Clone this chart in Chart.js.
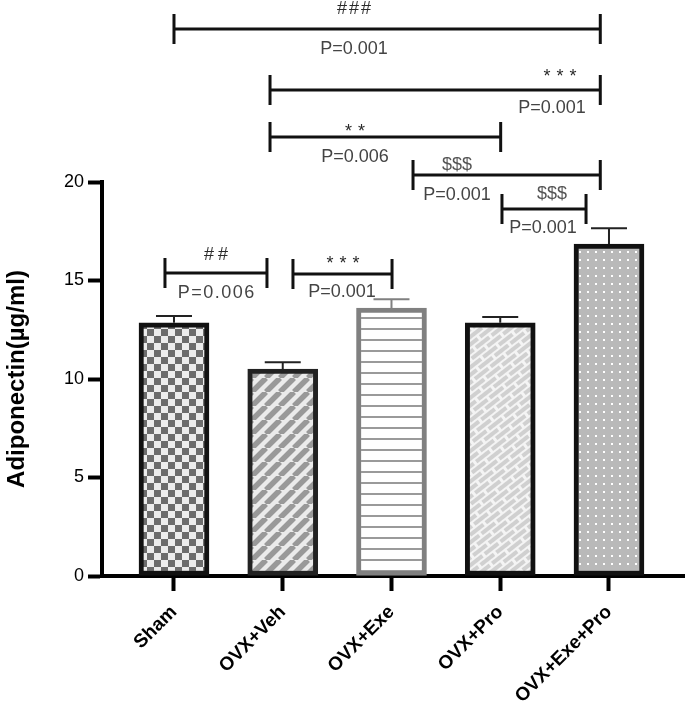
<!DOCTYPE html>
<html><head><meta charset="utf-8">
<script src="https://cdn.jsdelivr.net/npm/chart.js@4.4.1/dist/chart.umd.min.js"></script>
<style>html,body{margin:0;padding:0;background:#fff}#wrap{width:685px;height:704px}</style>
</head><body><div id="wrap"><canvas id="c" width="685" height="704"></canvas></div>
<script>
const categories = ['Sham', 'OVX+Veh', 'OVX+Exe', 'OVX+Pro', 'OVX+Exe+Pro'];
const means = [12.85, 10.5, 13.6, 12.85, 16.85];
const sems = [0.35, 0.35, 0.45, 0.3, 0.8];
const yTicks = [0, 5, 10, 15, 20];

// significance brackets (x in category index units, y in axis units)
const bracketStart = [0, 0.883, 0.883, 2.198, 3.016, -0.083, 1.094];
const bracketEnd   = [3.92, 3.92, 3.004, 3.92, 3.789, 0.855, 2.005];
const bracketLevel = [27.77, 24.67, 22.28, 20.36, 18.63, 15.38, 15.33];
const symbolText = ['###', '***', '**', '$$$', '$$$', '##', '***'];
const symbolX = [1.655, 3.55, 1.664, 2.602, 3.476, 0.386, 1.554];
const symbolY = [28.78, 25.53, 22.74, 20.86, 19.39, 16.29, 16.04];
const pText = ['P=0.001', 'P=0.001', 'P=0.006', 'P=0.001', 'P=0.001', 'P=0.006', 'P=0.001'];
const pX = [1.655, 3.476, 1.664, 2.602, 3.393, 0.386, 1.545];
const pY = [26.73, 23.76, 21.27, 19.34, 17.66, 14.37, 14.42];

const FONT = "'Liberation Sans', Arial, Helvetica, sans-serif";
const canvas = document.getElementById('c');
const ctx0 = canvas.getContext('2d');

function makeTile(w, h, draw) {
  const c = document.createElement('canvas');
  c.width = w; c.height = h;
  draw(c.getContext('2d'), w, h);
  return c;
}
const checker = ctx0.createPattern(makeTile(14, 14, g => {
  g.fillStyle = '#ececec'; g.fillRect(0, 0, 14, 14);
  g.fillStyle = '#6c6c6c'; g.fillRect(0, 0, 7, 7); g.fillRect(7, 7, 7, 7);
}), 'repeat');
const stripes = ctx0.createPattern(makeTile(14, 14, g => {
  g.fillStyle = '#ebebeb'; g.fillRect(0, 0, 14, 14);
  g.strokeStyle = '#999999'; g.lineWidth = 5.5;
  g.beginPath();
  for (let k = -14; k <= 28; k += 14) { g.moveTo(k, 14); g.lineTo(k + 14, 0); }
  g.stroke();
}), 'repeat');
const hlines = ctx0.createPattern(makeTile(10, 11, g => {
  g.fillStyle = '#ffffff'; g.fillRect(0, 0, 10, 11);
  g.fillStyle = '#9a9a9a'; g.fillRect(0, 9, 10, 2);
}), 'repeat');
const bricks = ctx0.createPattern(makeTile(20, 12, g => {
  g.fillStyle = '#f4f4f4'; g.fillRect(0, 0, 20, 12);
  g.fillStyle = '#d0d0d0';
  g.fillRect(1, 1, 17, 4);
  g.fillRect(-9, 7, 17, 4); g.fillRect(11, 7, 17, 4);
}), 'repeat');
try { bricks.setTransform(new DOMMatrix().rotate(-38)); } catch (e) {}
const dots = ctx0.createPattern(makeTile(8, 8, g => {
  g.fillStyle = '#b9b9b9'; g.fillRect(0, 0, 8, 8);
  g.fillStyle = '#ffffff'; g.fillRect(3, 3, 2, 2);
}), 'repeat');

const fills = [checker, stripes, hlines, bricks, dots];
const borders = ['#111111', '#222222', '#808080', '#111111', '#111111'];

const errorBars = {
  id: 'errorBars',
  afterDatasetsDraw(chart) {
    const { ctx, scales: { x, y } } = chart;
    ctx.save();
    ctx.lineWidth = 2;
    means.forEach((m, i) => {
      const px = x.getPixelForValue(i);
      const y0 = y.getPixelForValue(m);
      const y1 = y.getPixelForValue(m + sems[i]);
      ctx.strokeStyle = i === 2 ? '#808080' : '#222222';
      ctx.beginPath();
      ctx.moveTo(px, y0); ctx.lineTo(px, y1);
      ctx.moveTo(px - 18, y1); ctx.lineTo(px + 18, y1);
      ctx.stroke();
    });
    ctx.restore();
  }
};

function spacedText(ctx, text, x, y, spacing) {
  if ('letterSpacing' in ctx) {
    ctx.letterSpacing = spacing + 'px';
    ctx.fillText(text, x + spacing / 2, y);
    ctx.letterSpacing = '0px';
  } else {
    ctx.fillText(text, x, y);
  }
}

const brackets = {
  id: 'brackets',
  afterDraw(chart) {
    const { ctx, scales: { x, y } } = chart;
    ctx.save();
    ctx.lineWidth = 3;
    ctx.strokeStyle = '#111111';
    ctx.textAlign = 'center';
    ctx.textBaseline = 'middle';
    bracketStart.forEach((s, i) => {
      const x0 = x.getPixelForValue(s);
      const x1 = x.getPixelForValue(bracketEnd[i]);
      const yl = y.getPixelForValue(bracketLevel[i]);
      ctx.beginPath();
      ctx.moveTo(x0, yl); ctx.lineTo(x1, yl);
      ctx.moveTo(x0, yl - 15); ctx.lineTo(x0, yl + 15);
      ctx.moveTo(x1, yl - 15); ctx.lineTo(x1, yl + 15);
      ctx.stroke();
      const sym = symbolText[i];
      ctx.font = '18px ' + FONT;
      ctx.fillStyle = '#2a2a2a';
      let sp = 0, dy = 0;
      if (sym[0] === '*') { sp = 6; dy = 4; }
      else if (sym === '##') { sp = 4; }
      else if (sym === '###') { sp = 2; }
      else { ctx.fillStyle = '#555555'; }
      spacedText(ctx, sym, x.getPixelForValue(symbolX[i]), y.getPixelForValue(symbolY[i]) + dy, sp);
      ctx.fillStyle = '#444444';
      spacedText(ctx, pText[i], x.getPixelForValue(pX[i]), y.getPixelForValue(pY[i]), i === 5 ? 1.5 : 0);
    });
    ctx.restore();
  }
};

new Chart(canvas, {
  type: 'bar',
  data: {
    datasets: [{
      data: categories.map((c, i) => ({ x: i, y: means[i] })),
      backgroundColor: fills,
      borderColor: borders,
      borderWidth: 5,
      borderSkipped: false,
      barThickness: 70
    }]
  },
  options: {
    responsive: false,
    animation: false,
    devicePixelRatio: 1,
    layout: { padding: { top: 182, right: 0, left: 0, bottom: 0 } },
    plugins: { legend: { display: false }, tooltip: { enabled: false } },
    scales: {
      x: {
        type: 'linear',
        offset: false,
        min: -0.662,
        max: 4.699,
        afterBuildTicks(s) { s.ticks = categories.map((c, i) => ({ value: i })); },
        afterFit(s) { s.height = 128; },
        ticks: {
          autoSkip: false,
          minRotation: 45,
          maxRotation: 45,
          padding: 10,
          color: '#000',
          font: { family: FONT, size: 19, weight: 'bold' },
          callback: (v) => categories[v]
        },
        grid: { offset: false, drawOnChartArea: false, drawTicks: true, tickLength: 15, tickWidth: 4, tickColor: '#000' },
        border: { display: true, width: 4, color: '#000' }
      },
      y: {
        min: 0,
        max: 20,
        afterBuildTicks(s) { s.ticks = yTicks.map(v => ({ value: v })); },
        afterFit(s) { s.width = 102; },
        ticks: { color: '#000', padding: 4, font: { family: FONT, size: 18 } },
        grid: { drawOnChartArea: false, drawTicks: true, tickLength: 14, tickWidth: 4, tickColor: '#000' },
        border: { display: true, width: 4, color: '#000' },
        title: {
          display: true,
          text: 'Adiponectin(µg/ml)',
          color: '#000',
          padding: { top: 3, bottom: 0 },
          font: { family: FONT, size: 24, weight: 'bold' }
        }
      }
    }
  },
  plugins: [errorBars, brackets]
});
</script></body></html>
